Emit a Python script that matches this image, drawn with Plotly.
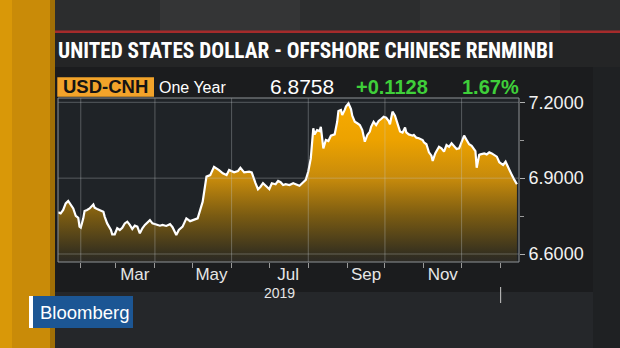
import plotly.graph_objects as go

# ---------------- data ----------------
dates = [
    "2019-01-14", "2019-01-16", "2019-01-18", "2019-01-20", "2019-01-22", "2019-01-24", "2019-01-26", "2019-01-28", "2019-01-30", "2019-01-31",
    "2019-02-01", "2019-02-03", "2019-02-04", "2019-02-06", "2019-02-08", "2019-02-11", "2019-02-12", "2019-02-14", "2019-02-16", "2019-02-19",
    "2019-02-20", "2019-02-22", "2019-02-25", "2019-02-26", "2019-02-28", "2019-03-02", "2019-03-04", "2019-03-06", "2019-03-08", "2019-03-10",
    "2019-03-12", "2019-03-14", "2019-03-16", "2019-03-18", "2019-03-20", "2019-03-22", "2019-03-24", "2019-03-26", "2019-03-28", "2019-03-30",
    "2019-04-02", "2019-04-05", "2019-04-07", "2019-04-10", "2019-04-13", "2019-04-15", "2019-04-18", "2019-04-20", "2019-04-23", "2019-04-26",
    "2019-04-29", "2019-05-02", "2019-05-05", "2019-05-09", "2019-05-12", "2019-05-15", "2019-05-18", "2019-05-22", "2019-05-25", "2019-05-28",
    "2019-05-30", "2019-06-03", "2019-06-06", "2019-06-08", "2019-06-11", "2019-06-15", "2019-06-17", "2019-06-20", "2019-06-22", "2019-06-24",
    "2019-06-26", "2019-06-29", "2019-07-01", "2019-07-03", "2019-07-06", "2019-07-08", "2019-07-10", "2019-07-12", "2019-07-14", "2019-07-17",
    "2019-07-20", "2019-07-22", "2019-07-25", "2019-07-28", "2019-07-30", "2019-08-01", "2019-08-03", "2019-08-05", "2019-08-06", "2019-08-08",
    "2019-08-10", "2019-08-11", "2019-08-12", "2019-08-13", "2019-08-15", "2019-08-17", "2019-08-19", "2019-08-21", "2019-08-22", "2019-08-24",
    "2019-08-25", "2019-08-27", "2019-08-28", "2019-08-30", "2019-08-31", "2019-09-02", "2019-09-04", "2019-09-05", "2019-09-07", "2019-09-09",
    "2019-09-11", "2019-09-13", "2019-09-15", "2019-09-17", "2019-09-19", "2019-09-20", "2019-09-22", "2019-09-24", "2019-09-26", "2019-09-28",
    "2019-09-30", "2019-10-02", "2019-10-04", "2019-10-05", "2019-10-07", "2019-10-09", "2019-10-11", "2019-10-13", "2019-10-15", "2019-10-17",
    "2019-10-18", "2019-10-20", "2019-10-23", "2019-10-24", "2019-10-26", "2019-10-28", "2019-10-31", "2019-11-01", "2019-11-03", "2019-11-05",
    "2019-11-07", "2019-11-08", "2019-11-10", "2019-11-13", "2019-11-15", "2019-11-17", "2019-11-19", "2019-11-21", "2019-11-23", "2019-11-24",
    "2019-11-27", "2019-11-29", "2019-12-01", "2019-12-03", "2019-12-05", "2019-12-07", "2019-12-09", "2019-12-10", "2019-12-12", "2019-12-13",
    "2019-12-15", "2019-12-16", "2019-12-19", "2019-12-21", "2019-12-23", "2019-12-25", "2019-12-27", "2019-12-29", "2019-12-31", "2020-01-01",
    "2020-01-03", "2020-01-05", "2020-01-07", "2020-01-09", "2020-01-10", "2020-01-12", "2020-01-14",
]

usd_cnh = [
    6.765, 6.761, 6.774, 6.800, 6.810, 6.797, 6.780, 6.751, 6.743, 6.708,
    6.704, 6.741, 6.770, 6.774, 6.780, 6.796, 6.783, 6.778, 6.774, 6.767,
    6.748, 6.721, 6.695, 6.678, 6.678, 6.702, 6.695, 6.704, 6.721, 6.728,
    6.715, 6.699, 6.712, 6.708, 6.682, 6.702, 6.715, 6.726, 6.734, 6.721,
    6.717, 6.712, 6.715, 6.711, 6.718, 6.706, 6.675, 6.695, 6.708, 6.741,
    6.730, 6.734, 6.741, 6.807, 6.906, 6.912, 6.945, 6.932, 6.919, 6.912,
    6.932, 6.923, 6.928, 6.941, 6.923, 6.926, 6.923, 6.880, 6.856, 6.866,
    6.880, 6.866, 6.857, 6.880, 6.876, 6.889, 6.884, 6.873, 6.876, 6.873,
    6.880, 6.876, 6.870, 6.884, 6.893, 6.926, 6.978, 7.097, 7.073, 7.090,
    7.086, 7.103, 7.044, 7.018, 7.051, 7.047, 7.068, 7.071, 7.073, 7.123,
    7.166, 7.170, 7.150, 7.170, 7.183, 7.196, 7.173, 7.147, 7.123, 7.117,
    7.110, 7.090, 7.044, 7.071, 7.084, 7.103, 7.123, 7.110, 7.126, 7.134,
    7.143, 7.139, 7.126, 7.113, 7.163, 7.147, 7.117, 7.085, 7.080, 7.100,
    7.081, 7.073, 7.068, 7.071, 7.060, 7.058, 7.051, 7.042, 7.034, 7.002,
    6.989, 6.968, 6.998, 7.024, 7.018, 7.005, 7.031, 7.024, 7.038, 7.031,
    7.015, 7.018, 7.044, 7.068, 7.051, 7.034, 7.028, 7.020, 7.007, 6.941,
    6.992, 6.994, 6.998, 6.994, 7.002, 6.998, 6.992, 6.985, 6.963, 6.959,
    6.952, 6.965, 6.941, 6.923, 6.912, 6.893, 6.876,
]

title_text = "UNITED STATES DOLLAR - OFFSHORE CHINESE RENMINBI"
ticker = "USD-CNH"
period = "One Year"
last_value = "6.8758"
net_change = "+0.1128"
pct_change = "1.67%"

y_tick_vals = [6.6, 6.9, 7.2]
y_tick_text = ["6.6000", "6.9000", "7.2000"]
y_minor_vals = [6.75, 7.05]
x_label_vals = ["2019-03-16", "2019-05-16", "2019-07-16", "2019-09-16", "2019-11-16"]
x_label_text = ["Mar", "May", "Jul", "Sep", "Nov"]
month_starts = ["2019-02-01", "2019-03-01", "2019-04-01", "2019-05-01", "2019-06-01", "2019-07-01",
                "2019-08-01", "2019-09-01", "2019-10-01", "2019-11-01", "2019-12-01", "2020-01-01"]
grid_months = ["2019-02-01", "2019-04-01", "2019-06-01", "2019-08-01", "2019-10-01", "2019-12-01"]
year_label = "2019"
year_label_pos = "2019-07-09"
year_boundary = "2020-01-01"

# ---------------- geometry ----------------
W, H = 620, 348
L, R, T, B = 58, 101, 98, 86
PW, PH = W - L - R, H - T - B
Y_LO, Y_HI = 6.5684, 7.217
X_RANGE = ["2019-01-13 21:00", "2020-01-15 16:00"]


def xp(px):
    return (px - L) / PW


def yp(py):
    return (H - B - py) / PH


def prect(x0, y0, x1, y1, color, layer="below"):
    return dict(type="rect", xref="paper", yref="paper", x0=xp(x0), x1=xp(x1),
                y0=yp(y1), y1=yp(y0), fillcolor=color, line=dict(width=0), layer=layer)


FONT = "Liberation Sans, Arial, Helvetica, sans-serif"
NARROW = "Liberation Sans Narrow, Arial Narrow, Roboto Condensed, DejaVu Sans Condensed, sans-serif"

fig = go.Figure()
fig.add_trace(go.Scatter(
    x=dates, y=usd_cnh, mode="lines",
    line=dict(color="#ffffff", width=2.2),
    fill="tozeroy",
    fillgradient=dict(
        type="vertical", start=Y_LO, stop=7.2,
        colorscale=[[0.0, "#2c2a26"], [0.05, "#35301f"], [0.29, "#7a5b12"],
                    [0.52, "#c68a0c"], [0.76, "#eca200"], [1.0, "#f8ab00"]],
    ),
    hoverinfo="skip", showlegend=False,
))

shapes = [
    # backgrounds
    prect(55, 0, 620, 31, "#2c2d2e"),
    prect(160, 0, 300, 31, "#343536"),
    prect(420, 0, 560, 31, "#313233"),
    prect(53, 30.5, 620, 33, "#a52b2b"),
    prect(55, 33, 620, 67, "#242526"),
    prect(593, 67, 620, 348, "#1f2123"),
    prect(55, 292, 593, 348, "#25272a"),
    prect(0, 0, 12, 348, "#d99808"),
    prect(12, 0, 50, 348, "#c98b08"),
    prect(50, 0, 55, 348, "#a06f06"),
    prect(L, T, L + PW, H - B, "#1f2327"),
]

grid_col = "rgba(200,205,210,0.33)"
for m in grid_months:
    shapes.append(dict(type="line", xref="x", yref="paper", x0=m, x1=m, y0=0, y1=1,
                       line=dict(color=grid_col, width=1), layer="above"))
for v in y_tick_vals:
    shapes.append(dict(type="line", xref="paper", yref="y", x0=0, x1=1, y0=v, y1=v,
                       line=dict(color=grid_col, width=1), layer="above"))
# frame
shapes.append(dict(type="rect", xref="paper", yref="paper", x0=0, x1=1, y0=0, y1=1,
                   line=dict(color="#8f9396", width=1), fillcolor="rgba(0,0,0,0)", layer="above"))
# year boundary marker
shapes.append(dict(type="line", xref="x", yref="paper", x0=year_boundary, x1=year_boundary,
                   y0=yp(287), y1=yp(303), line=dict(color="#b0b0b0", width=1.2), layer="above"))
# ticker box
shapes.append(prect(57.3, 77.3, 154, 96.7, "#f2a32a", layer="above"))
# Bloomberg logo
shapes.append(prect(29, 296, 133, 328, "#1c5694", layer="above"))
shapes.append(prect(29, 296, 33, 328, "#ffffff", layer="above"))

annotations = [
    dict(text="<b>" + title_text + "</b>", x=xp(56), y=yp(50.5), xanchor="left", yanchor="middle",
         font=dict(family=NARROW, size=21.3, color="#ffffff")),
    dict(text="<b>" + ticker + "</b>", x=xp(105.6), y=yp(87), xanchor="center", yanchor="middle",
         font=dict(family=FONT, size=18.5, color="#141414")),
    dict(text=period, x=xp(157), y=yp(87.5), xanchor="left", yanchor="middle",
         font=dict(family=FONT, size=16, color="#ffffff")),
    dict(text=last_value, x=xp(268), y=yp(87), xanchor="left", yanchor="middle",
         font=dict(family=FONT, size=21, color="#ffffff")),
    dict(text="<b>" + net_change + "</b>", x=xp(354), y=yp(87), xanchor="left", yanchor="middle",
         font=dict(family=FONT, size=20, color="#3fcf3a")),
    dict(text="<b>" + pct_change + "</b>", x=xp(460), y=yp(87), xanchor="left", yanchor="middle",
         font=dict(family=FONT, size=20, color="#3fcf3a")),
    dict(text=year_label, x=year_label_pos, xref="x", y=yp(292.5), xanchor="center", yanchor="middle",
         font=dict(family=FONT, size=14, color="#e6e6e6")),
    dict(text="Bloomberg", x=xp(84), y=yp(312), xanchor="center", yanchor="middle",
         font=dict(family=FONT, size=18.5, color="#ffffff")),
]
for a in annotations:
    a.setdefault("xref", "paper")
    a.setdefault("yref", "paper")
    a["showarrow"] = False

fig.update_layout(
    width=W, height=H,
    margin=dict(l=L, r=R, t=T, b=B, pad=0),
    paper_bgcolor="#1b1c1e",
    plot_bgcolor="rgba(0,0,0,0)",
    shapes=shapes,
    annotations=annotations,
    showlegend=False,
    xaxis=dict(
        type="date", range=X_RANGE, showgrid=False, zeroline=False, showline=False,
        tickmode="array", tickvals=x_label_vals, ticktext=x_label_text, ticks="",
        tickfont=dict(family=FONT, size=17, color="#e6e6e6"),
        minor=dict(tickmode="array", tickvals=month_starts, ticks="outside", ticklen=5,
                   tickcolor="#9a9a9a", tickwidth=1, showgrid=False),
        fixedrange=True,
    ),
    yaxis=dict(
        range=[Y_LO, Y_HI], side="right", showgrid=False, zeroline=False, showline=False,
        tickmode="array", tickvals=y_tick_vals, ticktext=y_tick_text,
        ticks="outside", ticklen=5, tickcolor="#b0b0b0", tickwidth=1,
        tickfont=dict(family=FONT, size=18, color="#f2f2f2"),
        minor=dict(tickmode="array", tickvals=y_minor_vals, ticks="outside", ticklen=4,
                   tickcolor="#9a9a9a", showgrid=False),
        fixedrange=True,
    ),
)

fig.write_html("out.html")
